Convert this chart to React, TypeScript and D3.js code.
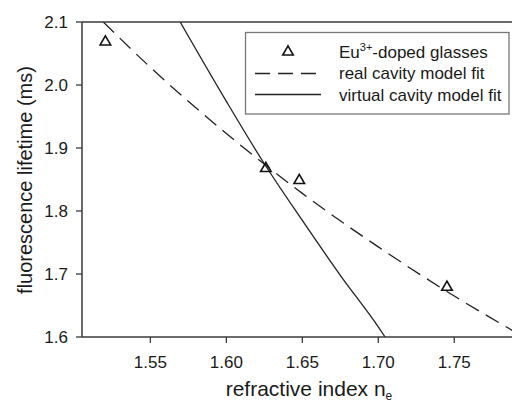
import React from "react";
import * as d3 from "d3";

// measured data points (Eu3+-doped glasses)
const pointN = [1.5204, 1.626, 1.648, 1.7452];
const pointTau = [2.07, 1.869, 1.85, 1.6805];

// real cavity model fit
const realN = [1.519, 1.55, 1.6, 1.65, 1.7, 1.75, 1.79];
const realTau = [2.1, 2.028, 1.923, 1.828, 1.743, 1.665, 1.608];

// virtual cavity model fit
const virtN = [1.5696, 1.6, 1.625, 1.65, 1.675, 1.7, 1.7045];
const virtTau = [2.1, 1.974, 1.875, 1.785, 1.698, 1.616, 1.6];

const xTicks = [1.55, 1.6, 1.65, 1.7, 1.75];
const xTickLabels = ["1.55", "1.60", "1.65", "1.70", "1.75"];
const yTicks = [1.6, 1.7, 1.8, 1.9, 2.0, 2.1];
const yTickLabels = ["1.6", "1.7", "1.8", "1.9", "2.0", "2.1"];

const legendLabels = ["real cavity model fit", "virtual cavity model fit"];

const FONT = "'Liberation Sans', Arial, Helvetica, sans-serif";

export default function App() {
  const W = 512;
  const H = 403;
  const left = 82;
  const right = 512;
  const top = 22;
  const bottom = 337;

  const x = d3.scaleLinear().domain([1.505, 1.788]).range([left, right]);
  const y = d3.scaleLinear().domain([1.6, 2.1]).range([bottom, top]);

  const line = d3
    .line<[number, number]>()
    .x((d) => x(d[0]))
    .y((d) => y(d[1]))
    .curve(d3.curveMonotoneX);

  const realPath = line(realN.map((n, i) => [n, realTau[i]] as [number, number])) || "";
  const virtPath = line(virtN.map((n, i) => [n, virtTau[i]] as [number, number])) || "";

  const tri = d3.symbol().type(d3.symbolTriangle).size(48)() || "";

  const axisColor = "#3a3a3a";
  const lineColor = "#222";
  const dash = "15 8";

  return (
    <svg
      width={W}
      height={H}
      style={{ position: "absolute", left: 0, top: 0, background: "#fff" }}
      fontFamily={FONT}
    >
      <defs>
        <clipPath id="plotclip">
          <rect x={left} y={top} width={right - left} height={bottom - top} />
        </clipPath>
      </defs>

      {/* curves */}
      <g clipPath="url(#plotclip)" fill="none">
        <path d={realPath} stroke={lineColor} strokeWidth={1.3} strokeDasharray={dash} />
        <path d={virtPath} stroke={lineColor} strokeWidth={1.3} />
      </g>

      {/* points */}
      {pointN.map((n, i) => (
        <path
          key={i}
          d={tri}
          transform={`translate(${x(n)},${y(pointTau[i]) + 1})`}
          fill="none"
          stroke="#111"
          strokeWidth={1.6}
        />
      ))}

      {/* frame */}
      <line x1={left} x2={right} y1={top} y2={top} stroke={axisColor} strokeWidth={1.5} />
      <line x1={left} x2={left} y1={top} y2={bottom} stroke={axisColor} strokeWidth={1.5} />
      <line x1={left} x2={right} y1={bottom} y2={bottom} stroke={axisColor} strokeWidth={1.5} />

      {/* y ticks */}
      {yTicks.map((t, i) => (
        <g key={"y" + i}>
          <line x1={left - 6} x2={left} y1={y(t)} y2={y(t)} stroke={axisColor} strokeWidth={1.3} />
          <text
            x={68}
            y={y(t)}
            dy="0.36em"
            textAnchor="end"
            fontSize={17}
            fill="#1a1a1a"
          >
            {yTickLabels[i]}
          </text>
        </g>
      ))}

      {/* x ticks */}
      {xTicks.map((t, i) => (
        <g key={"x" + i}>
          <line x1={x(t)} x2={x(t)} y1={bottom} y2={bottom + 6} stroke={axisColor} strokeWidth={1.3} />
          <text x={x(t)} y={368} textAnchor="middle" fontSize={17} fill="#1a1a1a">
            {xTickLabels[i]}
          </text>
        </g>
      ))}

      {/* axis titles */}
      <text x={309} y={396} textAnchor="middle" fontSize={21} fill="#1a1a1a">
        refractive index n
        <tspan fontSize={12} dy={4}>e</tspan>
      </text>
      <text
        transform={`translate(32,180) rotate(-90)`}
        textAnchor="middle"
        fontSize={20}
        fill="#1a1a1a"
      >
        fluorescence lifetime (ms)
      </text>

      {/* legend */}
      <rect x={245.5} y={32.5} width={263.5} height={81.5} fill="#fff" stroke="#777" strokeWidth={1.3} />
      <path d={tri} transform="translate(288,52)" fill="none" stroke="#111" strokeWidth={1.6} />
      <text x={339} y={57.5} fontSize={17} fill="#1a1a1a">
        Eu
        <tspan fontSize={11} dy={-7}>3+</tspan>
        <tspan dy={7}>-doped glasses</tspan>
      </text>
      <line x1={255} x2={317} y1={73.5} y2={73.5} stroke={lineColor} strokeWidth={1.3} strokeDasharray="15 8" />
      <text x={339} y={79} fontSize={17} fill="#1a1a1a">
        {legendLabels[0]}
      </text>
      <line x1={255} x2={321} y1={94.5} y2={94.5} stroke={lineColor} strokeWidth={1.3} />
      <text x={339} y={100.5} fontSize={17} fill="#1a1a1a">
        {legendLabels[1]}
      </text>
    </svg>
  );
}
